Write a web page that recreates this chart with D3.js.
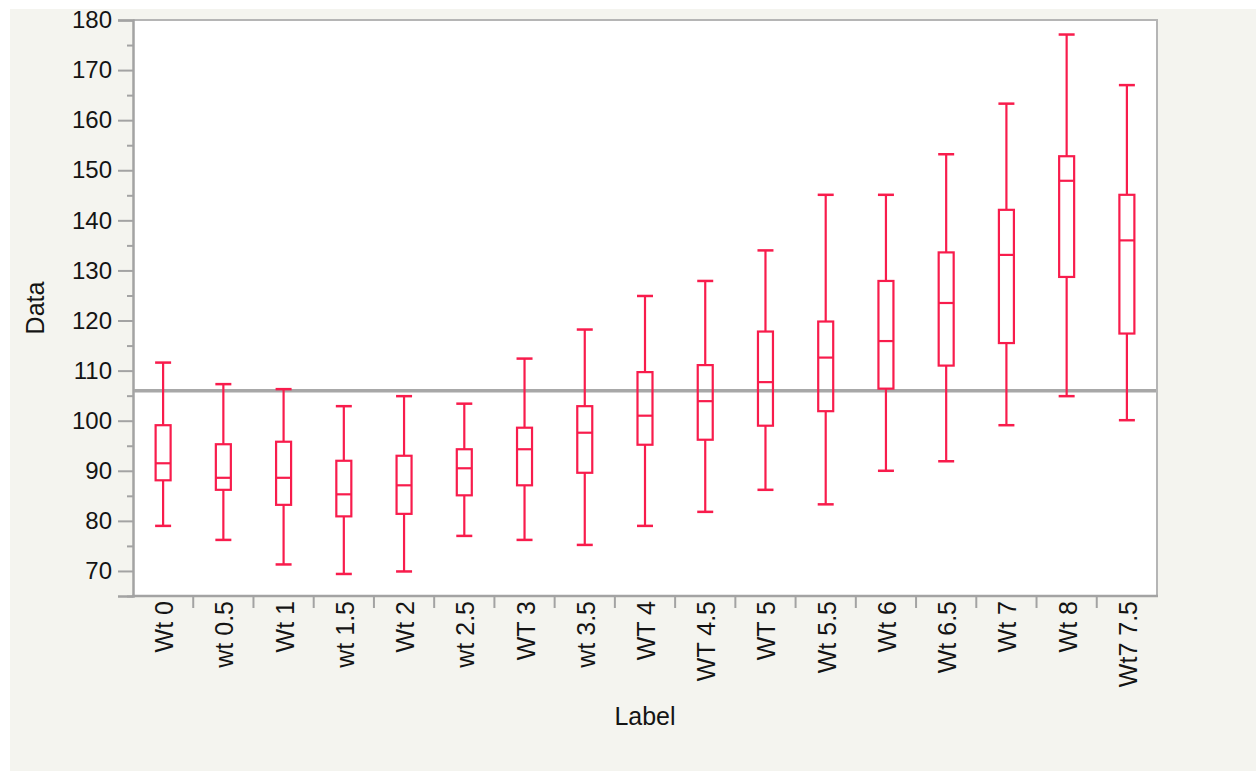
<!DOCTYPE html>
<html>
<head>
<meta charset="utf-8">
<script src="https://cdn.jsdelivr.net/npm/d3@7"></script>
<style>
  html, body { margin: 0; padding: 0; background: #ffffff; }
  svg { display: block; }
  text { font-family: "Liberation Sans", Arial, Helvetica, sans-serif; fill: #141414; }
</style>
</head>
<body>
<svg id="chart" width="1256" height="771"></svg>
<script>
// Group labels along the x axis
const categories = ["Wt 0", "wt 0.5", "Wt 1", "wt 1.5", "Wt 2", "wt 2.5", "WT 3", "wt 3.5",
  "WT 4", "WT 4.5", "WT 5", "Wt 5.5", "Wt 6", "Wt 6.5", "Wt 7", "Wt 8", "Wt7 7.5"];

// Five-number summaries per group
const whiskerLow  = [79.0, 76.2, 71.3, 69.4, 69.9, 77.0, 76.2, 75.2, 79.0, 81.8, 86.2, 83.3, 90.0, 91.9, 99.1, 104.9, 100.1];
const quartile1   = [88.1, 86.2, 83.2, 80.9, 81.4, 85.1, 87.1, 89.6, 95.2, 96.2, 99.0, 101.9, 106.4, 111.0, 115.5, 128.7, 117.4];
const medians     = [91.5, 88.6, 88.6, 85.3, 87.1, 90.5, 94.3, 97.6, 101.0, 103.9, 107.7, 112.6, 115.9, 123.5, 133.1, 147.9, 136.0];
const quartile3   = [99.1, 95.3, 95.8, 92.0, 93.0, 94.3, 98.6, 102.9, 109.7, 111.1, 117.8, 119.8, 127.9, 133.6, 142.1, 152.8, 145.1];
const whiskerHigh = [111.6, 107.3, 106.3, 102.9, 104.9, 103.4, 112.4, 118.2, 124.9, 127.9, 134.0, 145.1, 145.1, 153.2, 163.3, 177.1, 167.0];

// Horizontal reference line (overall mean)
const referenceValue = [106.0];

// Y axis tick values
const yMajorTicks = [70, 80, 90, 100, 110, 120, 130, 140, 150, 160, 170, 180];
const yMinorTicks = [65, 75, 85, 95, 105, 115, 125, 135, 145, 155, 165, 175];

const rows = categories.map((c, i) => ({
  label: c, lo: whiskerLow[i], q1: quartile1[i], med: medians[i], q3: quartile3[i], hi: whiskerHigh[i]
}));

const svg = d3.select("#chart");
const W = 1256, H = 771;
const plot = { left: 133, right: 1157, top: 20, bottom: 596 };
const red = "#f81c4c";
const axisGray = "#a3a3a3";

// Panel background
svg.append("rect").attr("x", 10).attr("y", 9).attr("width", W - 10).attr("height", H - 9)
  .attr("fill", "#f4f4ef");
svg.append("rect").attr("x", plot.left).attr("y", plot.top)
  .attr("width", plot.right - plot.left).attr("height", plot.bottom - plot.top)
  .attr("fill", "#ffffff");

const x = d3.scaleBand().domain(categories).range([plot.left, plot.right]).padding(0);
const y = d3.scaleLinear().domain([65, 180]).range([plot.bottom, plot.top]);
const cx = d => x(d) + x.bandwidth() / 2;

// Plot frame: top and right borders
svg.append("path")
  .attr("d", `M${plot.left},${plot.top}H${plot.right}V${plot.bottom}`)
  .attr("fill", "none").attr("stroke", "#b5b5b5").attr("stroke-width", 2);

// Y axis: major ticks with labels, minor ticks in between
const yAxis = svg.append("g").attr("transform", `translate(${plot.left},0)`);
yAxis.call(d3.axisLeft(y).tickValues(yMajorTicks).tickSize(15).tickPadding(6).tickFormat(d3.format("d")));
yAxis.append("g").call(d3.axisLeft(y).tickValues(yMinorTicks).tickSize(6).tickFormat(""))
  .select(".domain").remove();
yAxis.selectAll(".domain").attr("stroke", axisGray).attr("stroke-width", 2.5);
yAxis.selectAll(".tick line").attr("stroke", axisGray).attr("stroke-width", 2);
yAxis.selectAll(".tick text").attr("font-size", 24)
  .attr("font-family", "'Liberation Sans', Arial, sans-serif").attr("fill", "#141414");

// X axis: ticks at the boundaries between groups
const xAxis = svg.append("g").attr("transform", `translate(0,${plot.bottom})`);
xAxis.append("line").attr("x1", plot.left - 1).attr("x2", plot.right + 1)
  .attr("y1", 0).attr("y2", 0).attr("stroke", axisGray).attr("stroke-width", 2.5);
xAxis.selectAll("line.sep").data(categories.slice(1)).join("line")
  .attr("class", "sep")
  .attr("x1", d => x(d)).attr("x2", d => x(d))
  .attr("y1", 0).attr("y2", 12)
  .attr("stroke", axisGray).attr("stroke-width", 2);
xAxis.selectAll("text.cat").data(categories).join("text")
  .attr("class", "cat")
  .attr("transform", d => `translate(${cx(d) + 1},5) rotate(-90)`)
  .attr("text-anchor", "end")
  .attr("dy", "0.36em")
  .attr("font-size", 25)
  .text(d => d);

// Axis titles
svg.append("text")
  .attr("transform", `translate(44,${(plot.top + plot.bottom) / 2}) rotate(-90)`)
  .attr("text-anchor", "middle").attr("font-size", 25).text("Data");
svg.append("text")
  .attr("x", (plot.left + plot.right) / 2).attr("y", 725)
  .attr("text-anchor", "middle").attr("font-size", 25).text("Label");

// Reference line
svg.selectAll("line.ref").data(referenceValue).join("line")
  .attr("class", "ref")
  .attr("x1", plot.left + 1).attr("x2", plot.right - 1)
  .attr("y1", d => y(d)).attr("y2", d => y(d))
  .attr("stroke", "#a8a8a8").attr("stroke-width", 3.5);

// Box plots
const boxW = 15, capW = 16;
const g = svg.append("g").attr("fill", "none").attr("stroke", red).attr("stroke-width", 2.2);
const box = g.selectAll("g.box").data(rows).join("g").attr("class", "box");
// whiskers
box.append("line").attr("x1", d => cx(d.label)).attr("x2", d => cx(d.label))
  .attr("y1", d => y(d.hi)).attr("y2", d => y(d.q3));
box.append("line").attr("x1", d => cx(d.label)).attr("x2", d => cx(d.label))
  .attr("y1", d => y(d.q1)).attr("y2", d => y(d.lo));
// caps
box.append("line").attr("x1", d => cx(d.label) - capW / 2).attr("x2", d => cx(d.label) + capW / 2)
  .attr("y1", d => y(d.hi)).attr("y2", d => y(d.hi)).attr("stroke-width", 2.5);
box.append("line").attr("x1", d => cx(d.label) - capW / 2).attr("x2", d => cx(d.label) + capW / 2)
  .attr("y1", d => y(d.lo)).attr("y2", d => y(d.lo)).attr("stroke-width", 2.5);
// interquartile box
box.append("rect")
  .attr("x", d => cx(d.label) - boxW / 2).attr("width", boxW)
  .attr("y", d => y(d.q3)).attr("height", d => y(d.q1) - y(d.q3));
// median
box.append("line").attr("x1", d => cx(d.label) - boxW / 2).attr("x2", d => cx(d.label) + boxW / 2)
  .attr("y1", d => y(d.med)).attr("y2", d => y(d.med));
</script>
</body>
</html>
